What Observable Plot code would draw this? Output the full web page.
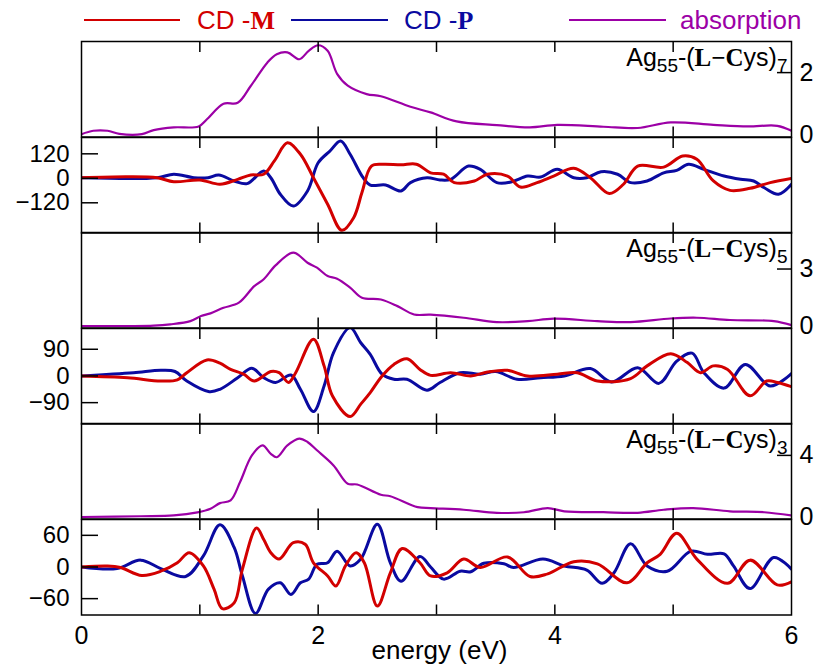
<!DOCTYPE html>
<html>
<head>
<meta charset="utf-8">
<script src="https://cdn.jsdelivr.net/npm/d3@7"></script>
<script src="https://cdn.jsdelivr.net/npm/@observablehq/plot@0.6"></script>
<style>
  html, body { margin: 0; padding: 0; background: #fff; }
  #wrap { position: relative; width: 817px; height: 664px; font-family: "Liberation Sans", Arial, sans-serif; }
  #wrap svg { position: absolute; left: 0; overflow: visible; }
  .leg-line { position: absolute; height: 1.6px; }
  .leg-text { position: absolute; font-size: 26px; line-height: 1; white-space: nowrap; }
  .leg-text b { font-family: "Liberation Serif", "DejaVu Serif", serif; font-weight: bold; }
</style>
</head>
<body>
<div id="wrap"></div>
<script>
// ---------- data (energy eV, value) ----------
const energyLabels = [0, 2, 4, 6];
const energyTicks = [1, 2, 3, 4, 5];

// Ag55-(L-Cys)7
const abs7 = [[0,0.02],[0.1,0.13],[0.22,0.13],[0.32,0.03],[0.51,0.02],[0.61,0.15],[0.78,0.24],[0.99,0.27],[1.06,0.5],[1.2,1.0],[1.32,1.03],[1.43,1.57],[1.57,2.32],[1.65,2.59],[1.74,2.65],[1.84,2.43],[1.92,2.7],[2.0,2.88],[2.08,2.7],[2.16,1.96],[2.25,1.58],[2.41,1.31],[2.53,1.24],[2.78,0.9],[2.95,0.72],[3.17,0.43],[3.51,0.31],[3.79,0.24],[4.02,0.32],[4.41,0.26],[4.7,0.22],[4.98,0.4],[5.34,0.32],[5.63,0.27],[5.88,0.29],[6.0,0.13]];
const cdM7 = [[0,3],[0.39,8],[0.64,3],[0.78,-17],[1.0,-8],[1.17,-29],[1.32,-5],[1.43,16],[1.54,20],[1.63,85],[1.74,174],[1.85,118],[1.96,3],[2.08,-127],[2.2,-255],[2.3,-193],[2.37,-70],[2.45,60],[2.55,69],[2.7,66],[2.83,69],[2.95,27],[3.06,20],[3.15,-21],[3.32,-13],[3.43,20],[3.6,11],[3.71,-43],[3.85,-21],[3.99,11],[4.16,49],[4.3,3],[4.46,-75],[4.58,-29],[4.7,60],[4.92,55],[5.08,109],[5.2,93],[5.34,-13],[5.48,-59],[5.65,-49],[5.82,-21],[6.0,0]];
const cdP7 = [[0,3],[0.64,3],[0.78,20],[0.95,3],[1.07,3],[1.16,16],[1.29,-13],[1.4,-26],[1.54,36],[1.6,3],[1.68,-78],[1.79,-136],[1.91,-62],[2.0,76],[2.1,134],[2.19,183],[2.27,118],[2.38,3],[2.44,-33],[2.57,-33],[2.7,-62],[2.78,-21],[2.92,3],[3.03,-8],[3.12,-5],[3.27,60],[3.37,44],[3.51,-21],[3.63,-18],[3.77,11],[3.88,6],[4.02,44],[4.16,3],[4.27,3],[4.39,32],[4.53,20],[4.64,-21],[4.78,-13],[4.92,27],[5.03,39],[5.13,69],[5.26,44],[5.43,11],[5.57,-5],[5.68,-13],[5.77,-46],[5.89,-78],[6.0,-29]];

// Ag55-(L-Cys)5
const abs5 = [[0,0],[0.39,0],[0.61,0.02],[0.75,0.09],[0.92,0.26],[1.01,0.53],[1.09,0.67],[1.2,0.96],[1.33,1.23],[1.46,2.1],[1.54,2.46],[1.64,3.19],[1.79,3.86],[1.91,3.33],[1.99,3.07],[2.08,2.63],[2.16,2.49],[2.27,2.02],[2.37,1.49],[2.53,1.4],[2.67,1.05],[2.81,0.61],[2.95,0.6],[3.23,0.44],[3.51,0.21],[3.77,0.26],[3.99,0.39],[4.36,0.26],[4.64,0.21],[4.98,0.4],[5.2,0.44],[5.48,0.32],[5.85,0.26],[6.0,0.05]];
const cdM5 = [[0,0],[0.39,-6],[0.67,-17],[0.81,-13],[0.89,11],[1.06,54],[1.17,43],[1.26,22],[1.37,6],[1.46,-17],[1.6,15],[1.67,11],[1.75,-22],[1.81,11],[1.96,124],[2.05,34],[2.12,-67],[2.27,-137],[2.36,-95],[2.44,-56],[2.54,0],[2.64,39],[2.75,58],[2.86,22],[2.95,2],[3.12,11],[3.29,0],[3.43,13],[3.6,19],[3.77,0],[4.02,6],[4.19,11],[4.36,-17],[4.64,-9],[4.78,34],[4.98,75],[5.12,45],[5.23,11],[5.34,34],[5.46,22],[5.65,-67],[5.79,-17],[5.88,-22],[6.0,-36]];
const cdP5 = [[0,0],[0.44,11],[0.67,19],[0.79,15],[0.89,-17],[1.08,-53],[1.17,-45],[1.32,-6],[1.44,26],[1.54,-6],[1.64,-22],[1.77,3],[1.85,-45],[1.96,-120],[2.05,-34],[2.13,79],[2.27,163],[2.36,112],[2.44,73],[2.54,6],[2.64,-11],[2.75,-11],[2.92,-48],[3.03,-22],[3.2,11],[3.37,6],[3.5,15],[3.68,-11],[3.88,-6],[4.08,0],[4.3,25],[4.48,-20],[4.7,28],[4.88,-25],[5.03,50],[5.16,77],[5.26,11],[5.43,-41],[5.61,39],[5.82,-34],[6.0,8]];

// Ag55-(L-Cys)3
const abs3 = [[0,0],[0.5,0.05],[0.78,0.1],[0.98,0.3],[1.09,0.53],[1.17,0.9],[1.26,1.08],[1.34,2.27],[1.44,4.0],[1.53,4.65],[1.6,4.1],[1.65,3.88],[1.74,4.65],[1.84,5.09],[1.91,4.87],[1.99,4.33],[2.13,3.35],[2.25,2.16],[2.33,2.11],[2.53,1.44],[2.61,1.35],[2.84,0.64],[2.95,0.58],[3.23,0.47],[3.51,0.27],[3.74,0.31],[3.94,0.58],[4.08,0.37],[4.41,0.31],[4.7,0.27],[4.92,0.47],[5.17,0.58],[5.48,0.37],[5.77,0.31],[6.0,0.1]];
const cdM3 = [[0,0],[0.22,2],[0.33,-1],[0.51,-16],[0.67,-8],[0.81,8],[0.91,27],[1.03,2],[1.12,-42],[1.19,-79],[1.29,-68],[1.36,-4],[1.48,74],[1.54,52],[1.6,27],[1.67,15],[1.79,46],[1.89,43],[1.96,8],[2.08,-17],[2.15,-36],[2.23,2],[2.32,27],[2.39,8],[2.5,-74],[2.61,-11],[2.71,35],[2.86,8],[2.95,-17],[3.09,-11],[3.23,15],[3.37,-1],[3.6,19],[3.79,-18],[3.94,-13],[4.16,10],[4.36,6],[4.61,-30],[4.78,8],[4.89,24],[5.03,64],[5.2,15],[5.46,-31],[5.65,13],[5.88,-34],[6.0,-28]];
const cdP3 = [[0,0],[0.3,-3],[0.5,13],[0.67,-3],[0.88,-18],[1.03,21],[1.17,80],[1.29,37],[1.36,-17],[1.47,-88],[1.58,-42],[1.68,-30],[1.77,-52],[1.85,-30],[1.92,-23],[1.99,5],[2.08,8],[2.16,30],[2.27,2],[2.36,15],[2.5,81],[2.61,8],[2.7,-27],[2.86,20],[2.95,0],[3.06,-23],[3.2,-8],[3.29,-9],[3.4,7],[3.57,6],[3.65,-1],[3.9,15],[4.08,2],[4.27,-6],[4.4,-31],[4.5,-11],[4.64,44],[4.78,2],[4.95,-8],[5.15,30],[5.29,24],[5.43,25],[5.51,2],[5.65,-41],[5.85,18],[6.0,-4]];

const absTopTicks = [2, 3, 4];
const cdTicks = [120, 90, 60];
const cysCounts = ["7", "5", "3"];
const absDomains = [[-0.07, 3.0], [-0.1, 4.92], [-0.13, 6.07]];
const cdDomains = [[-268, 200], [-162, 160], [-91, 90]];

const legendLabels = ["CD -", "CD -", "absorption"];
const legendBold = ["M", "P", ""];

// ---------- styling ----------
const RED = "#d20000", BLUE = "#0a0aa0", PURPLE = "#9c00a6";
const W = 817, ML = 81, MR = 26, PAD = 10;
const TOP0 = 41, PH = 95.5;
const FONT = "'Liberation Sans', Arial, sans-serif";
const wrap = document.getElementById("wrap");

const px = d => d[0], py = d => d[1];
const fmt = d => d < 0 ? "\u2212" + Math.abs(d) : String(d);
const blank = () => "";

function xTickMarks() {
  return [
    Plot.axisX({anchor: "top", ticks: energyTicks, tickSize: -10, tickFormat: blank, label: null, strokeWidth: 1.5}),
    Plot.axisX({anchor: "bottom", ticks: energyTicks, tickSize: -10, tickFormat: blank, label: null, strokeWidth: 1.5})
  ];
}

function addPlot(marks, yDomain, index, extraBottom = 0) {
  const svg = Plot.plot({
    width: W,
    height: PH + 2 * PAD + extraBottom,
    marginLeft: ML, marginRight: MR, marginTop: PAD, marginBottom: PAD + extraBottom,
    style: {fontFamily: FONT, fontSize: "24px", overflow: "visible", background: "transparent", color: "#000"},
    x: {domain: [0, 6]},
    y: {domain: yDomain},
    marks
  });
  svg.style.top = (TOP0 + index * PH - PAD) + "px";
  wrap.appendChild(svg);
  return svg;
}

for (let k = 0; k < 3; k++) {
  const absData = [abs7, abs5, abs3][k];
  const mData = [cdM7, cdM5, cdM3][k];
  const pData = [cdP7, cdP5, cdP3][k];
  const t = absTopTicks[k];
  const c = cdTicks[k];
  const titleStr = "Ag55-(L\u2212Cys)" + cysCounts[k];

  // absorption panel
  const s1 = addPlot([
    Plot.line(absData, {x: px, y: py, stroke: PURPLE, strokeWidth: 2.2, curve: "catmull-rom", clip: true}),
    ...xTickMarks(),
    Plot.axisY({anchor: "right", ticks: [0, t], tickSize: 0, tickPadding: 8, tickFormat: fmt, label: null, fontSize: 25}),
    Plot.axisY({anchor: "right", ticks: [t], tickSize: -15, tickFormat: blank, label: null, strokeWidth: 1.5}),
    Plot.frame({stroke: "#000", strokeWidth: 1.5}),
    Plot.text([titleStr], {frameAnchor: "top-right", dx: -4, dy: 24, textAnchor: "end", lineAnchor: "bottom", fontSize: 25})
  ], absDomains[k], 2 * k);

  // rich text for the title: subscripts and bold serif L, C
  const te = Array.from(s1.querySelectorAll("text")).find(e => e.textContent === titleStr);
  if (te) {
    while (te.firstChild) te.removeChild(te.firstChild);
    const parts = [
      ["Ag", {}], ["55", {size: 19, dy: 6}], ["-(", {dy: -6}],
      ["L\u2212C", {serif: true}], ["ys)", {}], [cysCounts[k], {size: 19, dy: 6}]
    ];
    for (const [str, o] of parts) {
      const ts = document.createElementNS("http://www.w3.org/2000/svg", "tspan");
      ts.textContent = str;
      if (o.size) ts.setAttribute("font-size", o.size);
      if (o.dy) ts.setAttribute("dy", o.dy);
      if (o.serif) { ts.setAttribute("font-family", "'Liberation Serif', 'DejaVu Serif', serif"); ts.setAttribute("font-weight", "bold"); }
      te.appendChild(ts);
    }
  }

  // CD panel
  const last = k === 2;
  const marks = [
    Plot.line(pData, {x: px, y: py, stroke: BLUE, strokeWidth: 3, curve: "catmull-rom", clip: true}),
    Plot.line(mData, {x: px, y: py, stroke: RED, strokeWidth: 3, curve: "catmull-rom", clip: true}),
    ...xTickMarks(),
    Plot.axisY({anchor: "left", ticks: [c, 0, -c], tickSize: 0, tickPadding: 12, tickFormat: fmt, label: null, fontSize: 24}),
    Plot.axisY({anchor: "left", ticks: [c, 0, -c], tickSize: -17, tickFormat: blank, label: null, strokeWidth: 1.5}),
    Plot.frame({stroke: "#000", strokeWidth: 1.5})
  ];
  if (last) {
    marks.push(Plot.axisX({anchor: "bottom", ticks: energyLabels, tickSize: 0, tickPadding: 11, tickFormat: fmt, label: null, fontSize: 25}));
    marks.push(Plot.text(["energy (eV)"], {frameAnchor: "bottom", dx: 3, dy: 44, lineAnchor: "bottom", fontSize: 26}));
  }
  addPlot(marks, cdDomains[k], 2 * k + 1, last ? 40 : 0);
}

// ---------- legend (above the chart) ----------
const legColors = [RED, BLUE, PURPLE];
const legLine = [[84, 180], [291, 388], [569, 666]];
const legText = [197, 404, 680];
for (let i = 0; i < 3; i++) {
  const l = document.createElement("div");
  l.className = "leg-line";
  l.style.left = legLine[i][0] + "px";
  l.style.width = (legLine[i][1] - legLine[i][0]) + "px";
  l.style.top = "19px";
  l.style.background = legColors[i];
  wrap.appendChild(l);
  const t = document.createElement("div");
  t.className = "leg-text";
  t.style.left = legText[i] + "px";
  t.style.top = "7px";
  t.style.color = legColors[i];
  t.append(legendLabels[i]);
  if (legendBold[i]) { const b = document.createElement("b"); b.textContent = legendBold[i]; t.appendChild(b); }
  wrap.appendChild(t);
}
</script>
</body>
</html>
